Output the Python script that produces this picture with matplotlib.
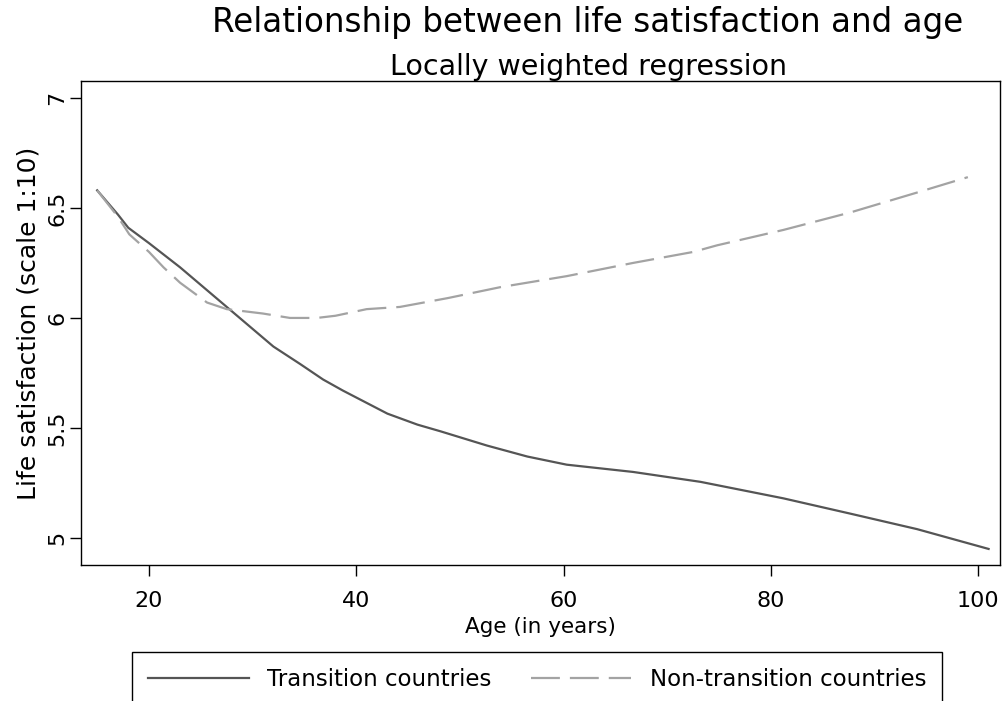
import matplotlib
matplotlib.use("Agg")
import matplotlib.pyplot as plt

plt.rcParams.update({
    "font.family": "DejaVu Sans",
    "axes.linewidth": 1.0,
    "xtick.major.size": 8, "ytick.major.size": 8,
    "xtick.major.width": 1.0, "ytick.major.width": 1.0,
})

# lowess curves
age_trans = [15, 17, 18, 20, 23, 27.5, 32, 34.6, 36.8, 38.7, 43, 45.9, 48.1, 52.6,
             56.5, 60.3, 66.7, 73.2, 74.8, 81.2, 87.7, 94.1, 101]
ls_trans = [6.58, 6.47, 6.41, 6.34, 6.23, 6.05, 5.87, 5.79, 5.72, 5.67, 5.565, 5.515, 5.485, 5.42,
            5.37, 5.333, 5.30, 5.255, 5.24, 5.18, 5.11, 5.04, 4.95]

age_nontrans = [15, 17, 18.1, 20, 21.4, 23, 25.6, 27.5, 31, 33.6, 36.2, 38, 41, 44.2, 48.8,
                53.9, 60.3, 66.7, 72.5, 74.8, 81.2, 87.7, 94.1, 99]
ls_nontrans = [6.58, 6.46, 6.38, 6.30, 6.23, 6.16, 6.07, 6.04, 6.02, 6.00, 6.00, 6.01, 6.04, 6.05, 6.09,
               6.14, 6.19, 6.25, 6.30, 6.33, 6.40, 6.48, 6.57, 6.64]

xticks = [20, 40, 60, 80, 100]
yticks = [5, 5.5, 6, 6.5, 7]
yticklabels = ["5", "5.5", "6", "6.5", "7"]

W, H = 1002, 701
fig = plt.figure(figsize=(W / 100, H / 100), dpi=100)
ax = fig.add_axes([81 / W, 1 - 565 / H, (1000 - 81) / W, (565 - 81) / H])

ax.plot(age_trans, ls_trans, color="#555555", lw=1.6, label="Transition countries")
ax.plot(age_nontrans, ls_nontrans, color="#a3a3a3", lw=1.6, dashes=(13, 4.5),
        label="Non-transition countries")

ax.set_xlim(13.44, 102.1)
ax.set_ylim(4.877, 7.077)
ax.set_xticks(xticks)
ax.set_yticks(yticks)
ax.set_yticklabels(yticklabels)
ax.tick_params(axis="x", labelsize=16, pad=11)
ax.tick_params(axis="y", labelsize=16, pad=2, labelrotation=90)
for lbl in ax.get_yticklabels():
    lbl.set_va("center")
for s in ax.spines.values():
    s.set_color("black")

ax.set_xlabel("Age (in years)", fontsize=15.5, labelpad=4)
ax.set_ylabel("Life satisfaction (scale 1:10)", fontsize=18, va="center")
ax.yaxis.set_label_coords((29 - 81) / (1000 - 81), 0.5)

fig.text(588 / W, 1 - 32 / H, "Relationship between life satisfaction and age",
         fontsize=23.5, ha="center", va="baseline")
fig.text(589 / W, 1 - 75 / H, "Locally weighted regression",
         fontsize=20.5, ha="center", va="baseline")

leg = fig.legend(loc="upper left", bbox_to_anchor=(132 / W, 1 - 652 / H), ncol=2,
                 fontsize=16.5, frameon=True, fancybox=False, framealpha=1,
                 edgecolor="black", borderpad=0.7, handlelength=4.4,
                 handletextpad=0.8, columnspacing=1.7, borderaxespad=0)
leg.get_frame().set_linewidth(1.0)

fig.savefig("out.png", dpi=100)
